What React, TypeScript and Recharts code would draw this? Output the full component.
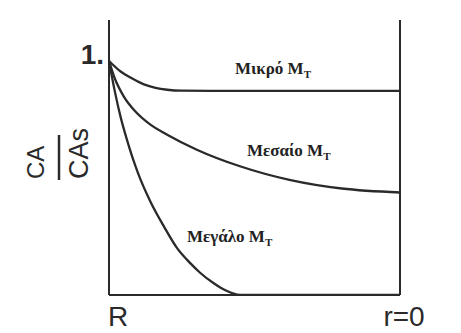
import { LineChart, Line, XAxis, YAxis, ReferenceLine } from "recharts";

// radial position: 0 = wall (R), 1 = centre (r=0)
const smallR = [0, 0.04, 0.08, 0.12, 0.16, 0.2, 0.25, 0.35, 1];
const smallC = [1, 0.955, 0.925, 0.9, 0.885, 0.877, 0.873, 0.872, 0.872];

const mediumR = [0, 0.02, 0.05, 0.09, 0.14, 0.2, 0.3, 0.45, 0.62, 0.8, 1];
const mediumC = [1, 0.925, 0.85, 0.785, 0.73, 0.685, 0.622, 0.55, 0.492, 0.455, 0.438];

const largeR = [0, 0.02, 0.04, 0.06, 0.08, 0.1, 0.14, 0.19, 0.234, 0.28, 0.313, 0.36, 0.4, 0.44, 0.46, 1];
const largeC = [1, 0.87, 0.76, 0.67, 0.59, 0.52, 0.405, 0.29, 0.2, 0.135, 0.095, 0.05, 0.02, 0.002, 0, 0];

const xTicks = [0, 1];
const xTickLabels = ["R", "r=0"];
const yTicks = [1];
const yTickLabels = ["1."];

const toRows = (r: number[], c: number[]) => r.map((x, i) => ({ r: x, c: c[i] }));

const INK = "#2a2a2a";
const SANS = "'Liberation Sans', Arial, sans-serif";
const SERIF = "'Liberation Serif', 'Times New Roman', serif";

function XTick(props: any) {
  const { x, y, payload } = props;
  const i = xTicks.indexOf(payload.value);
  return (
    <text
      x={i === 0 ? x - 1 : x + 4}
      y={y + 31}
      textAnchor={i === 0 ? "start" : "middle"}
      fontSize={28}
      fontFamily={SANS}
      fill={INK}
    >
      {xTickLabels[i]}
    </text>
  );
}

function YTick(props: any) {
  const { x, y, payload } = props;
  const i = yTicks.indexOf(payload.value);
  return (
    <text x={x - 5} y={y + 3} textAnchor="end" fontSize={28} fontWeight="bold" fontFamily={SANS} fill={INK}>
      {yTickLabels[i]}
    </text>
  );
}

function CurveLabel({ x, y, name }: { x: number; y: number; name: string }) {
  return (
    <text x={x} y={y} fontFamily={SERIF} fontWeight="bold" fontSize={17} fill="#222">
      {name} M
      <tspan fontSize={11} dy={4}>T</tspan>
    </text>
  );
}

export default function App() {
  return (
    <div style={{ position: "absolute", left: 0, top: 0, width: 461, height: 333, background: "#fff" }}>
      <LineChart width={461} height={333} margin={{ top: 20, right: 61, bottom: 0, left: 0 }}>
        <XAxis
          type="number"
          dataKey="r"
          domain={[0, 1]}
          ticks={xTicks}
          height={38}
          tickLine={false}
          tickSize={0}
          tickMargin={0}
          axisLine={{ stroke: INK, strokeWidth: 2 }}
          tick={<XTick />}
        />
        <YAxis
          type="number"
          domain={[0, 1.175]}
          ticks={yTicks}
          width={109}
          tickLine={false}
          tickSize={0}
          tickMargin={0}
          axisLine={{ stroke: INK, strokeWidth: 2 }}
          tick={<YTick />}
          allowDataOverflow
        />
        <ReferenceLine x={1} stroke={INK} strokeWidth={2} />
        <Line data={toRows(smallR, smallC)} dataKey="c" type="monotone" stroke={INK} strokeWidth={2.3} dot={false} isAnimationActive={false} />
        <Line data={toRows(mediumR, mediumC)} dataKey="c" type="monotone" stroke={INK} strokeWidth={2.3} dot={false} isAnimationActive={false} />
        <Line data={toRows(largeR, largeC)} dataKey="c" type="monotone" stroke={INK} strokeWidth={2.3} dot={false} isAnimationActive={false} />
      </LineChart>
      <svg width={461} height={333} style={{ position: "absolute", left: 0, top: 0, pointerEvents: "none" }}>
        <CurveLabel x={235} y={74} name="Μικρό" />
        <CurveLabel x={247} y={156} name="Μεσαίο" />
        <CurveLabel x={187} y={242} name="Μεγάλο" />
        <text transform="translate(44,179) rotate(-90)" fontSize={24} fontFamily={SANS} fill={INK}>CA</text>
        <line x1={59} y1={135} x2={59} y2={180} stroke={INK} strokeWidth={2.5} />
        <text transform="translate(88,179) rotate(-90)" fontSize={27} fontFamily={SANS} fill={INK}>CAs</text>
      </svg>
    </div>
  );
}
